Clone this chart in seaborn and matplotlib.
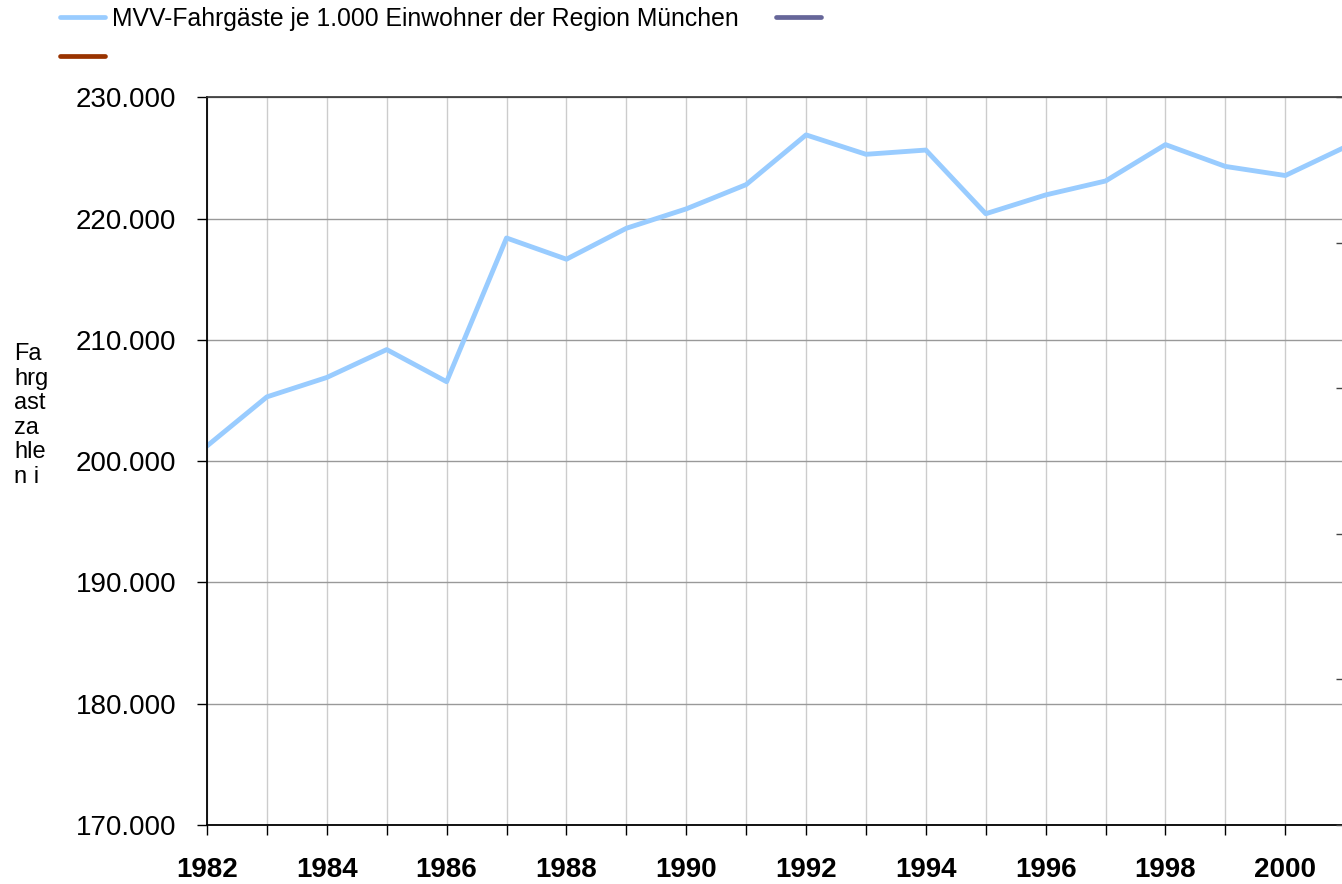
import numpy as np
import pandas as pd
import matplotlib
matplotlib.use('Agg')
import matplotlib.pyplot as plt
import seaborn as sns
from matplotlib.lines import Line2D
from matplotlib.ticker import FuncFormatter

# ── DATA ──────────────────────────────────────────────────────────────────
years = [1982, 1983, 1984, 1985, 1986, 1987, 1988, 1989, 1990, 1991,
         1992, 1993, 1994, 1995, 1996, 1997, 1998, 1999, 2000, 2001]
fahrgaeste = [201250, 205300, 206900, 209200, 206550, 218400, 216650, 219200,
              220800, 222800, 226900, 225300, 225650, 220400, 221950, 223100,
              226100, 224300, 223550, 225900]
series_label = 'MVV-Fahrgäste je 1.000 Einwohner der Region München'
y_ticks = [170000, 180000, 190000, 200000, 210000, 220000, 230000]

df = pd.DataFrame({'Jahr': years, 'Fahrgaeste': fahrgaeste})

# ── STYLE ─────────────────────────────────────────────────────────────────
sns.set_style('white')
plt.rcParams['font.family'] = ['Liberation Sans', 'DejaVu Sans']
plt.rcParams['text.color'] = 'black'
plt.rcParams['xtick.color'] = 'black'
plt.rcParams['ytick.color'] = 'black'

fig = plt.figure(figsize=(13.42, 8.84), dpi=100)
ax = fig.add_axes([207 / 1342, 59 / 884, 1138.2 / 1342, 727.7 / 884])

sns.lineplot(data=df, x='Jahr', y='Fahrgaeste', ax=ax, color='#99ccff',
             lw=3.5, legend=False)

ax.set_xlim(1982, 2001)
ax.set_ylim(170000, 230000)
ax.set_xticks(years)
ax.set_xticklabels([str(y) if y % 2 == 0 else '' for y in years],
                   fontweight='bold', fontsize=20)
ax.set_yticks(y_ticks)
ax.yaxis.set_major_formatter(FuncFormatter(lambda v, p: f'{v:,.0f}'.replace(',', '.')))
ax.tick_params(axis='y', labelsize=20, pad=15, length=7.2, width=1,
               direction='out', left=True)
ax.tick_params(axis='x', pad=16, length=7.2, width=1,
               direction='out', bottom=True)
ax.set_xlabel('')
ax.set_ylabel('')

ax.yaxis.grid(True, color='#999999', lw=1)
ax.xaxis.grid(True, color='#cccccc', lw=1)
ax.set_axisbelow(True)
for s in ['left', 'bottom']:
    ax.spines[s].set_color('black')
    ax.spines[s].set_linewidth(1.3)
ax.spines['top'].set_color('#333333')
ax.spines['top'].set_linewidth(1.2)
ax.spines['right'].set_visible(False)

# secondary axis (labels cut off at the right edge)
ax2 = ax.twinx()
ax2.set_ylim(0, 5)
ax2.set_yticks(range(6))
ax2.set_yticklabels([])
ax2.grid(False)
ax2.tick_params(axis='y', direction='in', length=6.5, width=1, color='#444444', right=True)
for s in ax2.spines.values():
    s.set_visible(False)

# y label, wrapped into narrow pieces
pieces = ['Fa', 'hrg', 'ast', 'za', 'hle', 'n i']
fig.text(14 / 1342, 1 - 343 / 884, '\n'.join(pieces), fontsize=17,
         va='top', ha='left', linespacing=1.15)

# legend
handles = [Line2D([], [], color='#99ccff', lw=3.4),
           Line2D([], [], color='#993300', lw=3.4),
           Line2D([], [], color='#666699', lw=3.4)]
fig.legend(handles, [series_label, '', ''], ncol=2, loc='upper left',
           bbox_to_anchor=(60 / 1342, 1 - 7 / 884), frameon=False,
           fontsize=17.8, handlelength=1.83, handletextpad=0.29,
           columnspacing=1.5, labelspacing=0.58, borderpad=0, borderaxespad=0)

plt.savefig('out.png', dpi=100)
